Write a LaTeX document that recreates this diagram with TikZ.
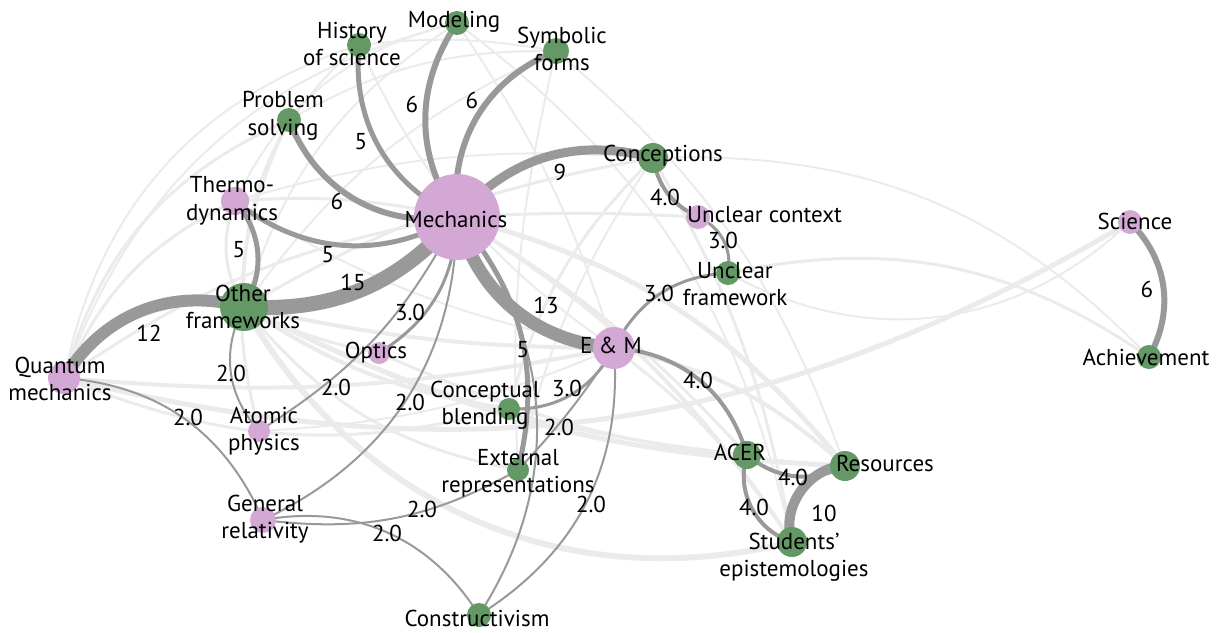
\documentclass[tikz,border=0pt]{standalone}
\usepackage{fontspec}
\setmainfont{PT Sans}
\usetikzlibrary{backgrounds}
\definecolor{ngreen}{RGB}{100,152,100}
\definecolor{npink}{RGB}{212,168,212}
\definecolor{edark}{RGB}{153,153,153}
\definecolor{elight}{RGB}{235,235,235}
\begin{document}
\begin{tikzpicture}[x=1pt,y=-1pt,
  gnode/.style={circle,fill=ngreen,inner sep=0pt,minimum size=#1},
  pnode/.style={circle,fill=npink,inner sep=0pt,minimum size=#1},
  lab/.style={font=\fontsize{23}{27.5}\selectfont,align=center,inner sep=0pt},
  elab/.style={font=\fontsize{23}{27.5}\selectfont,inner sep=0pt},
  dk/.style={draw=edark,line width=#1},
  lt/.style={draw=elight,line width=#1}]
\useasboundingbox (0,0) rectangle (1217,632);
% ---- circles
\node[gnode=24] (c-hist) at (359,45) {};
\node[gnode=24] (c-model) at (457,23) {};
\node[gnode=26] (c-symb) at (556,51) {};
\node[gnode=24] (c-prob) at (289,120) {};
\node[pnode=28] (c-thermo) at (235,201) {};
\node[pnode=86] (c-mech) at (457,217) {};
\node[gnode=30] (c-concep) at (653,158) {};
\node[pnode=24] (c-uctx) at (698,217) {};
\node[gnode=24] (c-ufw) at (728,273) {};
\node[gnode=48] (c-other) at (244,307) {};
\node[pnode=32] (c-quant) at (64,378) {};
\node[pnode=22] (c-atomic) at (259,431) {};
\node[pnode=22] (c-optics) at (379,353) {};
\node[pnode=26] (c-gr) at (263,520) {};
\node[pnode=42] (c-em) at (614,348) {};
\node[gnode=22] (c-blend) at (509,409) {};
\node[gnode=22] (c-ext) at (518,470) {};
\node[gnode=28] (c-acer) at (747,455) {};
\node[gnode=30] (c-res) at (845,466) {};
\node[gnode=30] (c-stud) at (792,542) {};
\node[gnode=24] (c-constr) at (479,615) {};
\node[pnode=24] (c-sci) at (1130,222) {};
\node[gnode=24] (c-ach) at (1149,357) {};
% ---- edges
\begin{pgfonlayer}{background}
% light edges
\draw[lt=2] (c-quant.center) to[bend left=30] (c-hist.center);
\draw[lt=2] (c-quant.center) to[bend left=28] (c-model.center);
\draw[lt=3] (c-quant.center) to[bend left=25] (c-prob.center);
\draw[lt=3] (c-quant.center) to[bend left=20] (c-thermo.center);
\draw[lt=3] (c-quant.center) to[bend left=12] (c-mech.center);
\draw[lt=4] (c-quant.center) to[bend right=8] (c-em.center);
\draw[lt=5] (c-quant.center) .. controls (474,478) and (766,435) .. (c-sci.center);
\draw[lt=3] (c-quant.center) to[bend right=18] (c-blend.center);
\draw[lt=2] (c-other.center) to[bend left=25] (c-hist.center);
\draw[lt=3] (c-other.center) to[bend left=15] (c-prob.center);
\draw[lt=2] (c-other.center) to[bend left=20] (c-model.center);
\draw[lt=2] (c-other.center) to[bend left=15] (c-symb.center);
\draw[lt=3] (c-other.center) to[bend left=10] (c-concep.center);
\draw[lt=3] (c-thermo.center) to[bend right=25] (c-other.center);
\draw[lt=6] (c-other.center) to[bend right=37] (c-stud.center);
\draw[lt=5] (c-other.center) to[bend right=12] (c-res.center);
\draw[lt=4] (c-other.center) to[bend right=6] (c-em.center);
\draw[lt=4] (c-other.center) to[bend right=12] (c-blend.center);
\draw[lt=3] (c-other.center) to[bend right=20] (c-ext.center);
\draw[lt=3] (c-other.center) to[bend right=8] (c-optics.center);
\draw[lt=3] (c-other.center) to[bend right=10] (c-acer.center);
\draw[lt=2] (c-prob.center) to[bend left=15] (c-symb.center);
\draw[lt=2] (c-hist.center) to[bend left=8] (c-symb.center);
\draw[lt=2] (c-thermo.center) to[bend left=25] (c-model.center);
\draw[lt=2] (c-hist.center) to[bend right=15] (c-em.center);
\draw[lt=2] (c-model.center) to[bend left=8] (c-em.center);
\draw[lt=2] (c-symb.center) to[bend right=8] (c-ext.center);
\draw[lt=2] (c-symb.center) to[bend left=15] (c-res.center);
\draw[lt=2] (c-model.center) to[bend left=20] (c-stud.center);
\draw[lt=3] (c-thermo.center) to[bend left=8] (c-mech.center);
\draw[lt=2] (c-thermo.center) to[bend left=10] (c-concep.center);
\draw[lt=2] (c-thermo.center) to[bend right=10] (c-em.center);
\draw[lt=3] (c-mech.center) to[bend left=3] (c-uctx.center);
\draw[lt=5] (c-mech.center) to[bend left=18] (c-res.center);
\draw[lt=4] (c-mech.center) to[bend left=12] (c-stud.center);
\draw[lt=3] (c-mech.center) to[bend left=8] (c-acer.center);
\draw[lt=3] (c-concep.center) to[bend right=15] (c-blend.center);
\draw[lt=2] (c-concep.center) to[bend right=10] (c-ext.center);
\draw[lt=2] (c-concep.center) to[bend left=24] (c-ach.center);
\draw[lt=3] (c-concep.center) to[bend left=10] (c-stud.center);
\draw[lt=3] (c-ufw.center) to[bend left=23] (c-ach.center);
\draw[lt=2] (c-ufw.center) to[bend right=36] (c-sci.center);
\draw[lt=4] (c-em.center) to[bend left=15] (c-res.center);
\draw[lt=3] (c-em.center) to[bend left=10] (c-stud.center);
\draw[lt=3] (c-optics.center) to[bend right=10] (c-res.center);
\draw[lt=2] (c-atomic.center) to[bend right=10] (c-em.center);
\draw[lt=3] (c-prob.center) to[bend right=20] (c-atomic.center);
% dark edges
\draw[dk=5] (c-hist.center) to[bend right=35] (c-mech.center);
\draw[dk=6] (c-model.center) to[bend right=34] (c-mech.center);
\draw[dk=6] (c-symb.center) to[bend right=37] (c-mech.center);
\draw[dk=6] (c-prob.center) to[bend right=39] (c-mech.center);
\draw[dk=5] (c-thermo.center) to[bend right=34] (c-mech.center);
\draw[dk=15] (c-other.center) to[bend right=26] (c-mech.center);
\draw[dk=12] (c-quant.center) to[bend left=37] (c-other.center);
\draw[dk=5] (c-thermo.center) to[bend left=36] (c-other.center);
\draw[dk=9] (c-mech.center) to[bend left=32] (c-concep.center);
\draw[dk=13] (c-mech.center) to[bend right=35] (c-em.center);
\draw[dk=5] (c-mech.center) to[bend left=27] (c-ext.center);
\draw[dk=2] (c-mech.center) to[bend left=36] (c-constr.center);
\draw[dk=3] (c-mech.center) to[bend left=28] (c-optics.center);
\draw[dk=2] (c-mech.center) to[bend left=15] (c-atomic.center);
\draw[dk=2] (c-mech.center) to[bend left=32] (c-gr.center);
\draw[dk=2] (c-other.center) to[bend right=35] (c-atomic.center);
\draw[dk=2] (c-quant.center) to[bend left=31] (c-gr.center);
\draw[dk=2] (c-gr.center) to[bend right=18] (c-ext.center);
\draw[dk=2] (c-gr.center) to[bend left=34] (c-constr.center);
\draw[dk=3] (c-blend.center) to[bend right=32] (c-em.center);
\draw[dk=2] (c-ext.center) to[bend right=5] (c-em.center);
\draw[dk=2] (c-em.center) to[bend left=31] (c-constr.center);
\draw[dk=3] (c-em.center) to[bend left=30] (c-ufw.center);
\draw[dk=4] (c-em.center) to[bend left=35] (c-acer.center);
\draw[dk=4] (c-concep.center) to[bend right=27] (c-uctx.center);
\draw[dk=3] (c-uctx.center) to[bend left=38] (c-ufw.center);
\draw[dk=4] (c-acer.center) to[bend right=33] (c-res.center);
\draw[dk=4] (c-acer.center) to[bend right=45] (c-stud.center);
\draw[dk=10] (c-res.center) to[bend right=54] (c-stud.center);
\draw[dk=6] (c-sci.center) to[bend left=37] (c-ach.center);
\end{pgfonlayer}
% ---- node labels
\node[lab] (t-hist) at (352,44) {History\\of science};
\node[lab] (t-model) at (454,22) {Modeling};
\node[lab] (t-symb) at (562,49) {Symbolic\\forms};
\node[lab] (t-prob) at (283,116) {Problem\\solving};
\node[lab] (t-thermo) at (232,201) {Thermo-\\dynamics};
\node[lab] (t-mech) at (456,219) {Mechanics};
\node[lab] (t-concep) at (663,156) {Conceptions};
\node[lab,anchor=west] (t-uctx) at (687,215) {Unclear context};
\node[lab] (t-ufw) at (735,284) {Unclear\\framework};
\node[lab] (t-other) at (243,307) {Other\\frameworks};
\node[lab] (t-quant) at (60,379) {Quantum\\mechanics};
\node[lab] (t-atomic) at (264,431) {Atomic\\physics};
\node[lab] (t-optics) at (376,353) {Optics};
\node[lab] (t-gr) at (265,519) {General\\relativity};
\node[lab] (t-em) at (611,345) {E \& M};
\node[lab] (t-blend) at (485,405) {Conceptual\\blending};
\node[lab] (t-ext) at (518,473) {External\\representations};
\node[lab] (t-acer) at (740,452) {ACER};
\node[lab] (t-res) at (885,463) {Resources};
\node[lab] (t-stud) at (794,557) {Students’\\epistemologies};
\node[lab] (t-constr) at (477,618) {Constructivism};
\node[lab] (t-sci) at (1135,221) {Science};
\node[lab] (t-ach) at (1146,357) {Achievement};
% ---- edge labels
\node[elab] (w1) at (361,142) {5};
\node[elab] (w2) at (412,104) {6};
\node[elab] (w3) at (472,100) {6};
\node[elab] (w4) at (337,201) {6};
\node[elab] (w5) at (328,255) {5};
\node[elab] (w6) at (353,282) {15};
\node[elab] (w7) at (149,333) {12};
\node[elab] (w8) at (239,250) {5};
\node[elab] (w9) at (560,172) {9};
\node[elab] (w10) at (546,305) {13};
\node[elab] (w11) at (523,350) {5};
\node[elab] (w12) at (410,312) {3.0};
\node[elab] (w13) at (336,387) {2.0};
\node[elab] (w14) at (410,402) {2.0};
\node[elab] (w15) at (231,373) {2.0};
\node[elab] (w16) at (188,417) {2.0};
\node[elab] (w17) at (422,509) {2.0};
\node[elab] (w18) at (387,533) {2.0};
\node[elab] (w19) at (567,388) {3.0};
\node[elab] (w20) at (559,427) {2.0};
\node[elab] (w21) at (591,504) {2.0};
\node[elab] (w22) at (659,293) {3.0};
\node[elab] (w23) at (698,380) {4.0};
\node[elab] (w24) at (665,197) {4.0};
\node[elab] (w25) at (723,240) {3.0};
\node[elab] (w26) at (793,477) {4.0};
\node[elab] (w27) at (754,507) {4.0};
\node[elab] (w28) at (824,513) {10};
\node[elab] (w29) at (1147,289) {6};
\end{tikzpicture}
\end{document}
